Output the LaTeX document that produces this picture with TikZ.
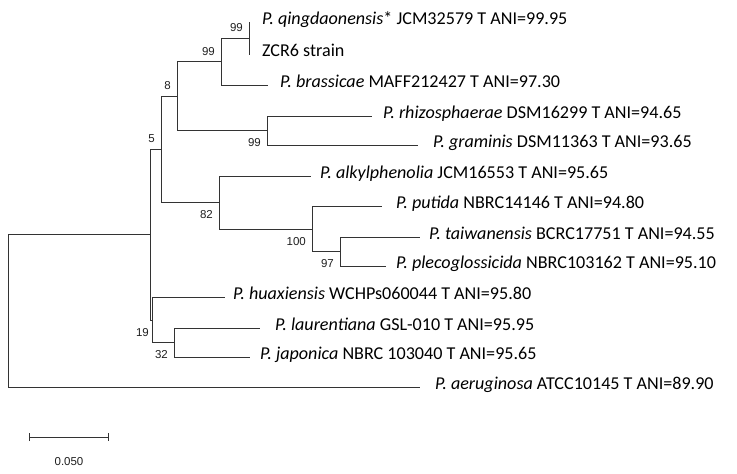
\documentclass[tikz,border=0pt]{standalone}
\usepackage{fontspec}
\setmainfont{Carlito}
\newfontfamily\bootfont{Liberation Sans}
\usetikzlibrary{positioning,arrows.meta}
\tikzstyle{branch} = [draw=black!80, line width=0.95pt]
\tikzstyle{taxon} = [anchor=mid west, inner sep=0pt, font=\fontsize{18.1}{20}\selectfont]
\tikzstyle{bootabove} = [anchor=south east, inner sep=0pt, text=black!88,
    font=\bootfont\fontsize{11.5}{12}\selectfont, xshift=-6pt, yshift=6pt]
\tikzstyle{bootbelow} = [anchor=north east, inner sep=0pt, text=black!88,
    font=\bootfont\fontsize{11.5}{12}\selectfont, xshift=-6pt, yshift=-8pt]

\begin{document}
\begin{tikzpicture}[x=1pt, y=-1pt]
    \useasboundingbox (0,0) rectangle (737,474);
    % internal nodes
    \coordinate (root) at (8,311);
    \coordinate (nA) at (150,234.5);
    \coordinate (nB) at (161,149);
    \coordinate (nC) at (152,320);
    \coordinate (nD) at (177,96);
    \coordinate (nE) at (219,202.5);
    \coordinate (nF) at (221,61.5);
    \coordinate (nG) at (267,130.5);
    \coordinate (nH) at (249,38);
    \coordinate (nI) at (312,229);
    \coordinate (nJ) at (340,251.5);
    \coordinate (nK) at (174,342.5);
    % leaf tips
    \coordinate (qin) at (250,22);
    \coordinate (zcr) at (250,54);
    \coordinate (bra) at (268,85);
    \coordinate (rhi) at (372,116);
    \coordinate (gra) at (418,145);
    \coordinate (alk) at (311,176);
    \coordinate (put) at (382,206);
    \coordinate (tai) at (420,237);
    \coordinate (ple) at (386,266);
    \coordinate (hua) at (225,297);
    \coordinate (lau) at (260,328);
    \coordinate (jap) at (250,357);
    \coordinate (aer) at (420,387);

    \draw[branch] (root) |- (nA);
    \draw[branch] (root) |- (aer);
    \draw[branch] (nA) |- (nB);
    \draw[branch] (nA) |- (nC);
    \draw[branch] (nB) |- (nD);
    \draw[branch] (nB) |- (nE);
    \draw[branch] (nD) |- (nF);
    \draw[branch] (nD) |- (nG);
    \draw[branch] (nF) |- (nH);
    \draw[branch] (nF) |- (bra);
    \draw[branch] (nH) |- (qin);
    \draw[branch] (nH) |- (zcr);
    \draw[branch] (nG) |- (rhi);
    \draw[branch] (nG) |- (gra);
    \draw[branch] (nE) |- (alk);
    \draw[branch] (nE) |- (nI);
    \draw[branch] (nI) |- (put);
    \draw[branch] (nI) |- (nJ);
    \draw[branch] (nJ) |- (tai);
    \draw[branch] (nJ) |- (ple);
    \draw[branch] (nC) |- (hua);
    \draw[branch] (nC) |- (nK);
    \draw[branch] (nK) |- (lau);
    \draw[branch] (nK) |- (jap);

    \node[right=12pt of qin, taxon] (tqin) {\textit{P. qingdaonensis}* JCM32579 T ANI=99.95};
    \node[right=12pt of zcr, taxon] (tzcr) {ZCR6 strain};
    \node[right=12pt of bra, taxon] (tbra) {\textit{P. brassicae} MAFF212427 T ANI=97.30};
    \node[right=11pt of rhi, taxon] (trhi) {\textit{P. rhizosphaerae} DSM16299 T ANI=94.65};
    \node[right=15pt of gra, taxon] (tgra) {\textit{P. graminis} DSM11363 T ANI=93.65};
    \node[right=9pt of alk, taxon] (talk) {\textit{P. alkylphenolia} JCM16553 T ANI=95.65};
    \node[right=14pt of put, taxon] (tput) {\textit{P. putida} NBRC14146 T ANI=94.80};
    \node[right=9pt of tai, taxon] (ttai) {\textit{P. taiwanensis} BCRC17751 T ANI=94.55};
    \node[right=10pt of ple, taxon] (tple) {\textit{P. plecoglossicida} NBRC103162 T ANI=95.10};
    \node[right=8pt of hua, taxon] (thua) {\textit{P. huaxiensis} WCHPs060044 T ANI=95.80};
    \node[right=15pt of lau, taxon] (tlau) {\textit{P. laurentiana} GSL-010 T ANI=95.95};
    \node[right=10pt of jap, taxon] (tjap) {\textit{P. japonica} NBRC 103040 T ANI=95.65};
    \node[right=15pt of aer, taxon] (taer) {\textit{P. aeruginosa} ATCC10145 T ANI=89.90};

    \node[bootabove] (bH) at (nH) {99};
    \node[bootabove] (bF) at (nF) {99};
    \node[bootabove] (bD) at (nD) {8};
    \node[bootabove] (bB) at (nB) {5};
    \node[bootbelow] (bG) at (nG) {99};
    \node[bootbelow] (bE) at (nE) {82};
    \node[bootbelow] (bI) at (nI) {100};
    \node[bootbelow] (bJ) at (nJ) {97};
    \node[bootbelow, xshift=3pt] (bC) at (nC) {19};
    \node[bootbelow] (bK) at (nK) {32};

    % scale bar
    \coordinate (sbl) at (29,437);
    \coordinate (sbr) at (109,437);
    \draw[branch, {Bar[width=8pt]}-{Bar[width=8pt]}] (sbl) -- (sbr);
    \node[inner sep=0pt, text=black!88, font=\bootfont\fontsize{11.5}{12}\selectfont] (sblabel) at (69,462) {0.050};
\end{tikzpicture}
\end{document}
